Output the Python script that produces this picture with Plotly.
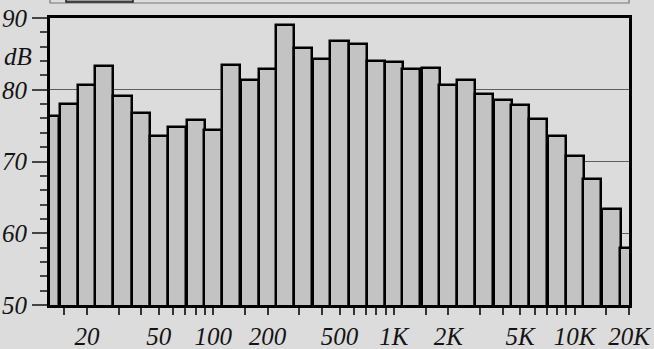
import numpy as np
import plotly.graph_objects as go

# 1/3-octave band centre frequencies (Hz) and measured band levels (dB)
bands = [12.5, 16, 20, 25, 31.5, 40, 50, 63, 80, 100, 125, 160, 200, 250, 315,
         400, 500, 630, 800, 1000, 1250, 1600, 2000, 2500, 3150, 4000, 5000,
         6300, 8000, 10000, 12500, 16000, 20000]
levels = [76.3, 78.0, 80.7, 83.3, 79.1, 76.7, 73.6, 74.8, 75.8, 74.4, 83.4,
          81.3, 82.9, 89.0, 85.8, 84.3, 86.8, 86.4, 84.0, 83.8, 82.9, 83.1,
          80.7, 81.3, 79.4, 78.6, 77.9, 75.9, 73.5, 70.7, 67.5, 63.4, 58.0]

# frequency axis ticks
label_vals = [20, 50, 100, 200, 500, 1000, 2000, 5000, 10000, 20000]
label_text = ["20", "50", "100", "200", "500", "1K", "2K", "5K", "10K", "20K"]
decade_vals = [20, 200, 2000, 20000]
minor_vals = [15, 30, 40, 60, 70, 80, 90, 150, 300, 400, 600, 700, 800, 900,
              1500, 3000, 4000, 6000, 7000, 8000, 9000, 15000]
level_ticks = [50, 60, 70, 80, 90]
level_text = ["50", "60", "70", "80", "90"]


def ital(items):
    return ["<i>%s</i>" % s for s in items]


# band edges one sixth of an octave either side of each centre
f = np.array(bands, dtype=float)
lo = f / 2 ** (1 / 6)
hi = f * 2 ** (1 / 6)

BG = "#dcdcdc"
FONT = dict(family="Liberation Serif", size=25, color="#141414", style="italic")
xrange_log = [np.log10(12.5), np.log10(20000)]

fig = go.Figure()
fig.add_trace(go.Bar(
    x=bands, y=levels, base=0,
    offset=(lo - f).tolist(), width=(hi - lo).tolist(),
    marker=dict(color="#c3c3c3", line=dict(color="#000000", width=2.5)),
    hoverinfo="skip", showlegend=False,
))

fig.update_layout(
    width=654, height=349,
    font=FONT,
    margin=dict(l=50, r=25, t=18, b=44, autoexpand=False),
    paper_bgcolor=BG, plot_bgcolor=BG,
    xaxis=dict(
        type="log", range=xrange_log, automargin=False,
        tickmode="array", tickvals=label_vals, ticktext=ital(label_text),
        ticks="outside", ticklen=7, tickwidth=1.5, tickcolor="#333",
        tickfont=FONT, showgrid=False, zeroline=False,
        showline=True, linewidth=3, linecolor="#000", mirror=True,
        minor=dict(tickmode="array", tickvals=minor_vals, ticks="outside",
                   ticklen=7, tickwidth=1.5, tickcolor="#333", showgrid=False),
    ),
    # decade ticks and gridlines
    xaxis2=dict(
        type="log", range=xrange_log, overlaying="x", anchor="y", side="bottom",
        automargin=False,
        tickmode="array", tickvals=decade_vals, showticklabels=False,
        ticks="outside", ticklen=15, tickwidth=1.5, tickcolor="#444",
        showgrid=True, gridcolor="#5e5e5e", gridwidth=1.2,
        zeroline=False, showline=False,
    ),
    yaxis=dict(
        range=[50, 90], automargin=False,
        tickmode="array", tickvals=level_ticks, ticktext=ital(level_text),
        ticks="outside", ticklen=15, tickwidth=1.5, tickcolor="#444",
        tickfont=FONT, showgrid=True, gridcolor="#5e5e5e", gridwidth=1.2,
        zeroline=False, showline=True, linewidth=3, linecolor="#000", mirror=True,
        minor=dict(dtick=2, tick0=50, ticks="outside", ticklen=7,
                   tickwidth=1.5, tickcolor="#444", showgrid=False),
    ),
    bargap=0,
    shapes=[
        # legend frame running off the top edge
        dict(type="rect", xref="paper", yref="paper", x0=0, x1=1,
             y0=1.0523, y1=1.3, line=dict(color="#777", width=1.2),
             fillcolor="rgba(0,0,0,0)", layer="above"),
        dict(type="rect", xref="paper", yref="paper", x0=0.0276, x1=0.1434,
             y0=1.056, y1=1.3, line=dict(color="#222", width=1.5),
             fillcolor="#9a9a9a", layer="above"),
    ],
    annotations=[
        dict(text="<i>dB</i>", x=0, xref="paper", y=84.6, yref="y",
             xanchor="right", yanchor="middle", xshift=-16,
             showarrow=False, font=FONT),
    ],
)

fig.write_html("out.html")
